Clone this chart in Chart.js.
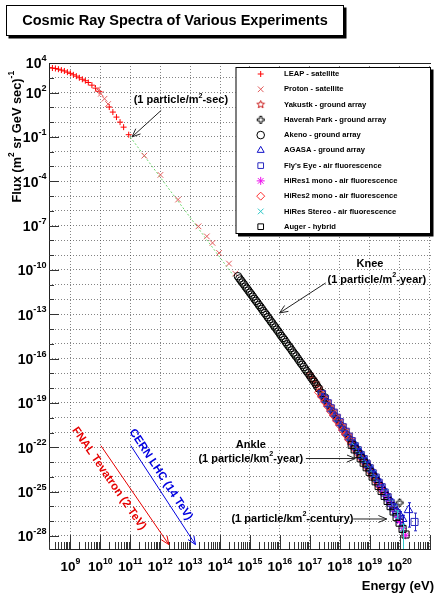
<!DOCTYPE html>
<html>
<head>
<meta charset="utf-8">
<title>Cosmic Ray Spectra of Various Experiments</title>
<script src="https://cdn.jsdelivr.net/npm/chart.js@4.4.1/dist/chart.umd.min.js"></script>
<style>
  html, body { margin: 0; padding: 0; background: #fff; }
  canvas { display: block; }
</style>
</head>
<body>
<canvas id="spectra" width="437" height="593"></canvas>
<script>
// energies (eV) and fluxes (m^-2 sr^-1 GeV^-1 s^-1), stored as log10
const leapLgE = [8.30, 8.40, 8.50, 8.60, 8.70, 8.80, 8.90, 9.00, 9.10, 9.20, 9.30, 9.40, 9.50, 9.60, 9.72, 9.84, 9.96, 10.30, 10.42, 10.54, 10.66, 10.78, 10.95];
const leapLgF = [3.68, 3.66, 3.63, 3.58, 3.52, 3.46, 3.38, 3.30, 3.20, 3.11, 3.00, 2.90, 2.80, 2.68, 2.50, 2.30, 2.08, 1.02, 0.68, 0.34, 0.00, -0.34, -0.85];

const protonLgE = [9.90, 10.02, 10.14, 10.26, 11.47, 12.01, 12.60, 13.28, 13.56, 13.75, 13.97, 14.30, 14.51];
const protonLgF = [2.22, 1.92, 1.58, 1.22, -2.27, -3.57, -5.24, -7.05, -7.73, -8.17, -8.85, -9.57, -10.25];

const yakutskLgE = [17.0, 17.1, 17.2, 17.3, 17.4, 17.5, 17.6, 17.7, 17.8, 17.9, 18.0, 18.1, 18.2, 18.3, 18.4, 18.5, 18.6, 18.7, 18.8, 18.9, 19.0, 19.1, 19.2, 19.3, 19.4, 19.5, 19.6, 19.7];
const yakutskLgF = [-17.10, -17.41, -17.67, -18.00, -18.28, -18.62, -18.92, -19.26, -19.56, -19.90, -20.20, -20.54, -20.84, -21.18, -21.48, -21.81, -22.09, -22.41, -22.69, -23.02, -23.31, -23.65, -23.95, -24.30, -24.60, -24.97, -25.28, -25.66];

const haverahLgE = [17.4, 17.5, 17.6, 17.7, 17.8, 17.9, 18.0, 18.1, 18.2, 18.3, 18.4, 18.5, 18.6, 18.7, 18.8, 18.9, 19.0, 19.1, 19.2, 19.3, 19.4, 19.5, 19.6, 19.8, 20.0];
const haverahLgF = [-18.50, -18.80, -19.13, -19.44, -19.77, -20.08, -20.41, -20.72, -21.05, -21.36, -21.69, -21.98, -22.30, -22.58, -22.90, -23.19, -23.52, -23.82, -24.16, -24.46, -24.80, -25.12, -25.48, -26.05, -25.75];

const akenoLgE = [14.60, 14.65, 14.70, 14.75, 14.80, 14.85, 14.90, 14.95, 15.00, 15.05, 15.10, 15.15, 15.20, 15.25, 15.30, 15.35, 15.40, 15.45, 15.50, 15.55, 15.60, 15.65, 15.70, 15.75, 15.80, 15.85, 15.90, 15.95, 16.00, 16.05, 16.10, 16.15, 16.20, 16.25, 16.30, 16.35, 16.40, 16.45, 16.50, 16.55, 16.60, 16.65, 16.70, 16.75, 16.80, 16.85, 16.90, 16.95, 17.00, 17.05, 17.10, 17.15, 17.20, 17.25, 17.30, 17.40, 17.50];
const akenoLgF = [-10.43, -10.58, -10.71, -10.85, -10.98, -11.13, -11.26, -11.40, -11.54, -11.67, -11.81, -11.96, -12.09, -12.22, -12.37, -12.50, -12.64, -12.79, -12.92, -13.05, -13.20, -13.33, -13.48, -13.61, -13.76, -13.89, -14.04, -14.17, -14.32, -14.47, -14.60, -14.73, -14.88, -15.03, -15.16, -15.29, -15.44, -15.59, -15.72, -15.85, -16.00, -16.15, -16.29, -16.42, -16.57, -16.72, -16.86, -16.99, -17.14, -17.30, -17.43, -17.57, -17.72, -17.88, -18.02, -18.32, -18.62];

const agasaLgE = [18.5, 18.6, 18.7, 18.8, 18.9, 19.0, 19.1, 19.2, 19.3, 19.4, 19.5, 19.6, 19.7, 19.8, 19.9, 20.0, 20.1, 20.3];
const agasaLgF = [-21.80, -22.12, -22.40, -22.73, -23.02, -23.35, -23.64, -23.98, -24.28, -24.64, -24.95, -25.30, -25.62, -25.98, -26.30, -26.55, -26.85, -26.25];
const agasaErrUp = [0.03, 0.03, 0.03, 0.04, 0.04, 0.05, 0.05, 0.06, 0.07, 0.08, 0.09, 0.10, 0.12, 0.14, 0.17, 0.20, 0.25, 0.50];
const agasaErrDn = [0.03, 0.03, 0.03, 0.04, 0.04, 0.05, 0.05, 0.06, 0.07, 0.08, 0.10, 0.11, 0.14, 0.16, 0.22, 0.28, 0.36, 1.15];

const flysEyeLgE = [17.4, 17.5, 17.6, 17.7, 17.8, 17.9, 18.0, 18.1, 18.2, 18.3, 18.4, 18.5, 18.6, 18.7, 18.8, 18.9, 19.0, 19.1, 19.2, 19.3, 19.4, 19.5, 19.6, 19.7, 19.8, 19.9, 20.0, 20.5];
const flysEyeLgF = [-18.40, -18.72, -19.02, -19.36, -19.66, -20.00, -20.30, -20.64, -20.95, -21.28, -21.58, -21.92, -22.20, -22.52, -22.80, -23.13, -23.42, -23.76, -24.05, -24.40, -24.70, -25.06, -25.38, -25.75, -26.08, -26.45, -26.85, -27.05];
const flysEyeErr = [0.04, 0.04, 0.04, 0.05, 0.05, 0.05, 0.06, 0.06, 0.07, 0.07, 0.08, 0.08, 0.09, 0.10, 0.10, 0.11, 0.12, 0.13, 0.14, 0.15, 0.17, 0.19, 0.21, 0.24, 0.28, 0.33, 0.40, 0.60];

const hires1LgE = [19.3, 19.4, 19.5, 19.6, 19.7, 19.8, 19.9, 20.0, 20.1, 20.2];
const hires1LgF = [-24.45, -24.78, -25.13, -25.47, -25.82, -26.20, -26.60, -27.02, -27.48, -27.95];

const hires2LgE = [17.3, 17.4, 17.5, 17.6, 17.7, 17.8, 17.9, 18.0, 18.1, 18.2, 18.3, 18.4, 18.5, 18.6, 18.7, 18.8, 18.9, 19.0, 19.1, 19.2, 19.3, 19.4];
const hires2LgF = [-18.28, -18.58, -18.92, -19.22, -19.56, -19.86, -20.20, -20.50, -20.84, -21.14, -21.48, -21.78, -22.11, -22.39, -22.71, -22.99, -23.32, -23.61, -23.95, -24.25, -24.59, -24.90];

const stereoLgE = [18.5, 18.6, 18.7, 18.8, 18.9, 19.0, 19.1, 19.2, 19.3, 19.4, 19.5, 19.6, 19.7, 19.8, 19.9, 20.1];
const stereoLgF = [-21.90, -22.20, -22.52, -22.82, -23.12, -23.44, -23.75, -24.08, -24.40, -24.73, -25.07, -25.42, -25.76, -26.12, -26.50, -27.55];
const stereoErrUp = [0, 0, 0, 0, 0, 0, 0, 0, 0, 0, 0, 0, 0, 0, 0.2, 0.35];
const stereoErrDn = [0, 0, 0, 0, 0, 0, 0, 0, 0, 0, 0, 0, 0, 0, 0.3, 2.5];

const augerLgE = [18.4, 18.5, 18.6, 18.7, 18.8, 18.9, 19.0, 19.1, 19.2, 19.3, 19.4, 19.5, 19.6, 19.7, 19.8, 19.9, 20.0, 20.1, 20.2];
const augerLgF = [-21.83, -22.14, -22.44, -22.74, -23.04, -23.35, -23.66, -23.98, -24.30, -24.62, -24.95, -25.29, -25.63, -25.98, -26.34, -26.72, -27.10, -27.52, -27.90];

// E^-2.7 guide line starting at 1 particle / m^2 s
const guideLgE = [11.0, 17.15];
const guideLgF = [-1.0, -17.73];

const seriesNames = [
  'LEAP - satellite',
  'Proton - satellite',
  'Yakustk - ground array',
  'Haverah Park - ground array',
  'Akeno - ground array',
  'AGASA - ground array',
  "Fly's Eye - air fluorescence",
  'HiRes1 mono - air fluorescence',
  'HiRes2 mono - air fluorescence',
  'HiRes Stereo - air fluorescence',
  'Auger - hybrid'
];

const xLabelExps = [9, 10, 11, 12, 13, 14, 15, 16, 17, 18, 19, 20];
const yLabelExps = [4, 2, -1, -4, -7, -10, -13, -16, -19, -22, -25, -28];

const FONT = '"Liberation Sans", Arial, Helvetica, sans-serif';
const font = px => `bold ${px}px ${FONT}`;

// open marker shapes that Chart.js has no built-in style for
function polygonMarker(color, pts, size) {
  const c = document.createElement('canvas');
  c.width = c.height = size;
  const g = c.getContext('2d');
  g.strokeStyle = color;
  g.lineWidth = 1;
  g.beginPath();
  pts.forEach(([px, py], i) => i ? g.lineTo(size / 2 + px, size / 2 + py) : g.moveTo(size / 2 + px, size / 2 + py));
  g.closePath();
  g.stroke();
  return c;
}
function openStar(color, r) {
  const pts = [];
  for (let k = 0; k < 10; k++) {
    const a = -Math.PI / 2 + k * Math.PI / 5;
    const rr = k % 2 ? r * 0.45 : r;
    pts.push([rr * Math.cos(a), rr * Math.sin(a)]);
  }
  return polygonMarker(color, pts, Math.ceil(2 * r + 3));
}
function openCross(color, r) {
  const a = r * 0.3;
  const pts = [[-a, -r], [a, -r], [a, -a], [r, -a], [r, a], [a, a], [a, r], [-a, r], [-a, a], [-r, a], [-r, -a], [-a, -a]];
  return polygonMarker(color, pts, Math.ceil(2 * r + 3));
}

const markerStyles = [
  {style: 'cross', r: 3, color: '#ff0000'},
  {style: 'crossRot', r: 4, color: '#e25c5c'},
  {style: openStar('#c81414', 4), r: 4, color: '#c81414'},
  {style: openCross('#000000', 3.5), r: 4, color: '#000000'},
  {style: 'circle', r: 3.8, color: '#000000'},
  {style: 'triangle', r: 5, color: '#1010c8'},
  {style: 'rect', r: 5, color: '#2a2ac0'},
  {style: 'star', r: 4, color: '#ee10ee'},
  {style: 'rectRot', r: 4.2, color: '#ff3030'},
  {style: 'crossRot', r: 4.5, color: '#30c8c8'},
  {style: 'rect', r: 5, color: '#000000'}
];

const toPoints = (lgE, lgF) => lgE.map((e, i) => ({x: Math.pow(10, e), y: Math.pow(10, lgF[i])}));

const seriesData = [
  [leapLgE, leapLgF], [protonLgE, protonLgF], [yakutskLgE, yakutskLgF], [haverahLgE, haverahLgF],
  [akenoLgE, akenoLgF], [agasaLgE, agasaLgF], [flysEyeLgE, flysEyeLgF], [hires1LgE, hires1LgF],
  [hires2LgE, hires2LgF], [stereoLgE, stereoLgF], [augerLgE, augerLgF]
];

const datasets = seriesData.map(([e, f], i) => {
  const m = markerStyles[i];
  return {
    label: seriesNames[i],
    data: toPoints(e, f),
    showLine: false,
    pointStyle: m.style,
    pointRadius: m.r,
    pointBorderWidth: 1,
    pointBorderColor: m.color,
    borderColor: m.color,
    pointBackgroundColor: 'rgba(0,0,0,0)',
    backgroundColor: 'rgba(0,0,0,0)',
    order: 20 - i
  };
});
datasets[5].errUp = agasaErrUp;
datasets[5].errDn = agasaErrDn;
datasets[6].errUp = flysEyeErr;
datasets[6].errDn = flysEyeErr;
datasets[9].errUp = stereoErrUp;
datasets[9].errDn = stereoErrDn;

datasets.push({
  label: 'guide',
  data: toPoints(guideLgE, guideLgF),
  showLine: true,
  borderColor: '#6fd86f',
  borderWidth: 1,
  borderDash: [2, 2],
  pointRadius: 0,
  order: 100
});

// text helpers: a part given as {sup: '...'} is drawn raised and smaller
function partsWidth(ctx, parts, size) {
  let w = 0;
  parts.forEach(p => {
    ctx.font = typeof p === 'string' ? font(size) : font(size * 0.65);
    w += ctx.measureText(typeof p === 'string' ? p : p.sup).width;
  });
  return w;
}
function drawParts(ctx, parts, x, y, size, align) {
  const w = partsWidth(ctx, parts, size);
  let cx = align === 'center' ? x - w / 2 : align === 'right' ? x - w : x;
  ctx.textAlign = 'left';
  ctx.textBaseline = 'middle';
  parts.forEach(p => {
    if (typeof p === 'string') {
      ctx.font = font(size);
      ctx.fillText(p, cx, y);
      cx += ctx.measureText(p).width;
    } else {
      ctx.font = font(size * 0.65);
      ctx.fillText(p.sup, cx, y - size * 0.42);
      cx += ctx.measureText(p.sup).width;
    }
  });
}
function drawArrow(ctx, x1, y1, x2, y2, color) {
  const a = Math.atan2(y2 - y1, x2 - x1);
  const h = 9;
  ctx.strokeStyle = color;
  ctx.lineWidth = 1;
  ctx.beginPath();
  ctx.moveTo(x1, y1);
  ctx.lineTo(x2, y2);
  ctx.moveTo(x2 - h * Math.cos(a - 0.4), y2 - h * Math.sin(a - 0.4));
  ctx.lineTo(x2, y2);
  ctx.lineTo(x2 - h * Math.cos(a + 0.4), y2 - h * Math.sin(a + 0.4));
  ctx.stroke();
}
function shadowBox(ctx, x, y, w, h) {
  ctx.fillStyle = '#000';
  ctx.fillRect(x + 2.5, y + 2.5, w, h);
  ctx.fillStyle = '#fff';
  ctx.fillRect(x, y, w, h);
  ctx.strokeStyle = '#000';
  ctx.lineWidth = 1;
  ctx.strokeRect(x + 0.5, y + 0.5, w - 1, h - 1);
}

// annotations, placed in energy / flux coordinates (log10)
const notes = [
  {parts: ['(1 particle/m', {sup: '2'}, '-sec)'], at: [11.115, 1.476], align: 'left'},
  {parts: ['Knee'], at: [19.01, -9.57], align: 'center'},
  {parts: ['(1 particle/m', {sup: '2'}, '-year)'], at: [19.24, -10.65], align: 'center'},
  {parts: ['Ankle'], at: [15.03, -21.81], align: 'center'},
  {parts: ['(1 particle/km', {sup: '2'}, '-year)'], at: [15.03, -22.76], align: 'center'},
  {parts: ['(1 particle/km', {sup: '2'}, '-century)'], at: [16.42, -26.85], align: 'center'}
];
const noteArrows = [
  {from: [12.036, 0.80], to: [11.06, -1.0]},
  {from: [17.53, -10.88], to: [15.99, -12.91]},
  {from: [16.87, -22.76], to: [18.52, -22.76]},
  {from: [18.45, -26.85], to: [19.57, -26.85]}
];
const beams = [
  {text: 'FNAL Tevatron (2 TeV)', color: '#e60000', at: [10.29, -24.11], from: [10.02, -21.89], to: [12.29, -28.58]},
  {text: 'CERN LHC (14 TeV)', color: '#0000e0', at: [12.02, -23.84], from: [11.02, -21.89], to: [13.18, -28.58]}
];

const errorBars = {
  id: 'errorBars',
  afterDatasetsDraw(chart) {
    const {ctx, chartArea: a, scales: {x, y}} = chart;
    ctx.save();
    ctx.beginPath();
    ctx.rect(a.left, a.top, a.right - a.left, a.bottom - a.top);
    ctx.clip();
    chart.data.datasets.forEach(ds => {
      if (!ds.errUp) return;
      ctx.strokeStyle = ds.pointBorderColor;
      ctx.lineWidth = 1;
      ds.data.forEach((p, i) => {
        const up = ds.errUp[i], dn = ds.errDn[i];
        if (!up && !dn) return;
        const px = Math.round(x.getPixelForValue(p.x)) + 0.5;
        const yHi = y.getPixelForValue(p.y * Math.pow(10, up));
        const yLo = y.getPixelForValue(p.y / Math.pow(10, dn));
        ctx.beginPath();
        ctx.moveTo(px, yHi); ctx.lineTo(px, yLo);
        ctx.moveTo(px - 1.5, yHi); ctx.lineTo(px + 1.5, yHi);
        ctx.moveTo(px - 1.5, yLo); ctx.lineTo(px + 1.5, yLo);
        ctx.stroke();
      });
    });
    ctx.restore();
  }
};

const decorations = {
  id: 'decorations',
  afterDraw(chart) {
    const {ctx, chartArea: a, scales: {x, y}} = chart;
    const X = lg => x.getPixelForValue(Math.pow(10, lg));
    const Y = lg => y.getPixelForValue(Math.pow(10, lg));
    ctx.save();

    // frame
    ctx.strokeStyle = '#222';
    ctx.lineWidth = 1;
    ctx.beginPath();
    ctx.moveTo(a.left + 0.5, a.top + 0.5);
    ctx.lineTo(a.left + 0.5, a.bottom + 0.5);
    ctx.lineTo(a.right, a.bottom + 0.5);
    ctx.moveTo(a.left, a.top + 0.5);
    ctx.lineTo(a.right, a.top + 0.5);
    ctx.stroke();

    // tick marks
    ctx.strokeStyle = '#333';
    ctx.beginPath();
    for (let d = 8; d <= 21; d++) {
      for (let m = 1; m <= 9; m++) {
        const v = m * Math.pow(10, d);
        if (v < x.min || v > x.max) continue;
        const px = Math.round(x.getPixelForValue(v)) + 0.5;
        ctx.moveTo(px, a.bottom);
        ctx.lineTo(px, a.bottom - (m === 1 ? 14 : 7));
      }
    }
    for (let d = -28; d <= 3; d++) {
      const py = Math.round(Y(d)) + 0.5;
      ctx.moveTo(a.left, py);
      ctx.lineTo(a.left + (yLabelExps.includes(d) ? 10 : 5), py);
    }
    ctx.stroke();

    // tick labels
    ctx.fillStyle = '#000';
    xLabelExps.forEach(e => drawParts(ctx, ['10', {sup: String(e)}], X(e), a.bottom + 18, 13.5, 'center'));
    yLabelExps.forEach(e => drawParts(ctx, ['10', {sup: String(e)}], a.left - 2.5, Y(e) + 1.5, 14, 'right'));

    // axis titles
    drawParts(ctx, ['Energy (eV)'], 434, 586.5, 13, 'right');
    ctx.save();
    ctx.translate(17.5, 71);
    ctx.rotate(-Math.PI / 2);
    drawParts(ctx, ['Flux (m', {sup: '2'}, ' sr GeV sec)', {sup: '-1'}], 0, 0, 12.8, 'right');
    ctx.restore();

    // annotations
    ctx.fillStyle = '#000';
    notes.forEach(n => drawParts(ctx, n.parts, X(n.at[0]), Y(n.at[1]), 11, n.align));
    noteArrows.forEach(r => drawArrow(ctx, X(r.from[0]), Y(r.from[1]), X(r.to[0]), Y(r.to[1]), '#222'));
    beams.forEach(b => {
      const x1 = X(b.from[0]), y1 = Y(b.from[1]), x2 = X(b.to[0]), y2 = Y(b.to[1]);
      drawArrow(ctx, x1, y1, x2, y2, b.color);
      ctx.save();
      ctx.translate(X(b.at[0]), Y(b.at[1]));
      ctx.rotate(Math.atan2(y2 - y1, x2 - x1));
      ctx.fillStyle = b.color;
      drawParts(ctx, [b.text], 0, 0, 11.5, 'center');
      ctx.restore();
    });

    // legend
    shadowBox(ctx, 235.5, 67, 195.5, 167);
    chart.data.datasets.slice(0, seriesNames.length).forEach((ds, i) => {
      const ly = 74 + i * 15.27;
      ctx.save();
      ctx.strokeStyle = ds.pointBorderColor;
      ctx.fillStyle = 'rgba(0,0,0,0)';
      ctx.lineWidth = 1;
      Chart.helpers.drawPoint(ctx, {pointStyle: ds.pointStyle, radius: Math.min(ds.pointRadius, 4), borderWidth: 1, rotation: 0}, 260.7, ly);
      ctx.restore();
      ctx.fillStyle = '#000';
      drawParts(ctx, [ds.label], 284, ly, 7.6, 'left');
    });

    // title
    shadowBox(ctx, 6, 5, 338, 31);
    ctx.fillStyle = '#000';
    drawParts(ctx, ['Cosmic Ray Spectra of Various Experiments'], 175, 21, 14.5, 'center');

    ctx.restore();
  }
};

const decadeTicks = (lo, hi) => scale => {
  const t = [];
  for (let d = lo; d <= hi; d++) t.push({value: Math.pow(10, d)});
  scale.ticks = t;
};

new Chart(document.getElementById('spectra'), {
  type: 'scatter',
  data: {datasets},
  options: {
    responsive: false,
    animation: false,
    events: [],
    layout: {padding: {left: 49, top: 63, right: 0, bottom: 44}},
    plugins: {legend: {display: false}, tooltip: {enabled: false}},
    scales: {
      x: {
        type: 'logarithmic',
        min: Math.pow(10, 8.286),
        max: Math.pow(10, 21.05),
        afterBuildTicks: decadeTicks(9, 21),
        ticks: {display: false},
        grid: {drawTicks: false, color: 'rgba(50,50,50,0.6)', lineWidth: 1},
        border: {display: false, dash: [1, 2]}
      },
      y: {
        type: 'logarithmic',
        min: Math.pow(10, -28.88),
        max: 1e4,
        afterBuildTicks: decadeTicks(-28, 3),
        ticks: {display: false},
        grid: {drawTicks: false, color: 'rgba(50,50,50,0.6)', lineWidth: 1},
        border: {display: false, dash: [1, 2]}
      }
    }
  },
  plugins: [errorBars, decorations]
});
</script>
</body>
</html>
